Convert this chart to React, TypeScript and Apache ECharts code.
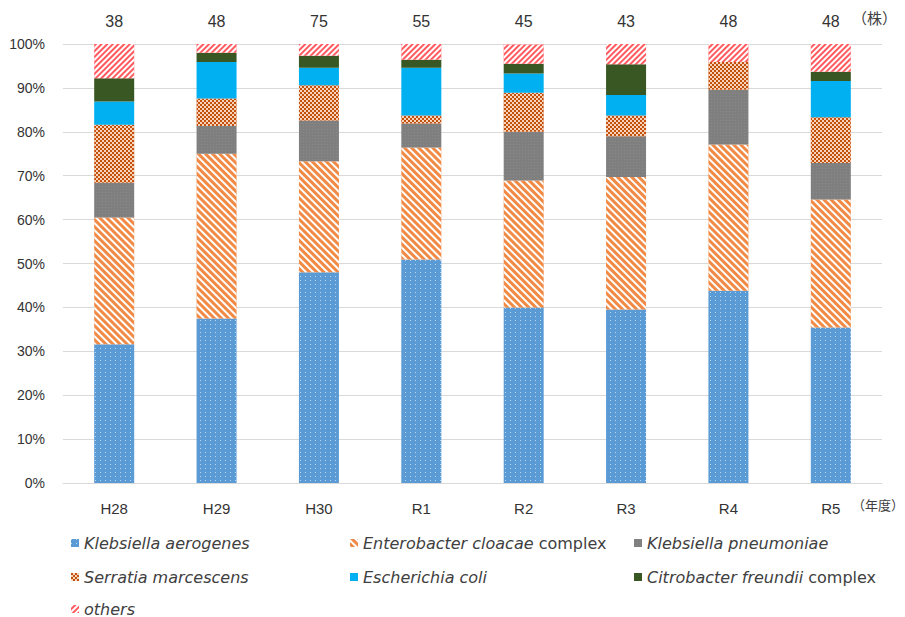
import React, { useEffect, useRef } from "react";
import * as echarts from "echarts";

const categories = ["H28", "H29", "H30", "R1", "R2", "R3", "R4", "R5"];
const totals = ["38", "48", "75", "55", "45", "43", "48", "48"];

const kAerogenes = [31.6, 37.5, 48.0, 50.9, 40.0, 39.5, 43.8, 35.4];
const eCloacae = [28.9, 37.5, 25.3, 25.5, 28.9, 30.2, 33.3, 29.2];
const kPneumoniae = [7.9, 6.3, 9.3, 5.5, 11.1, 9.3, 12.5, 8.3];
const sMarcescens = [13.2, 6.3, 8.0, 1.8, 8.9, 4.7, 6.3, 10.4];
const eColi = [5.3, 8.3, 4.0, 10.9, 4.4, 4.7, 0, 8.3];
const cFreundii = [5.3, 2.1, 2.7, 1.8, 2.2, 7.0, 0, 2.1];
const others = [7.9, 2.1, 2.7, 3.6, 4.4, 4.7, 4.2, 6.3];

const names = [
  "Klebsiella aerogenes",
  "Enterobacter cloacae complex",
  "Klebsiella pneumoniae",
  "Serratia marcescens",
  "Escherichia coli",
  "Citrobacter freundii complex",
  "others",
];

export default function App() {
  const ref = useRef<HTMLDivElement>(null);
  useEffect(() => {
    document.body.style.margin = "0";
    if (!ref.current) return;
    const chart = echarts.init(ref.current, null, { renderer: "svg" });
    const font = "'Liberation Sans', Arial, sans-serif";
    const legFont = "'DejaVu Sans', sans-serif";
    const styles: any[] = [
      {
        color: "#5B9BD5",
        decal: { symbol: "rect", color: "rgba(255,255,255,0.6)", dashArrayX: [1, 4], dashArrayY: [1, 3], symbolSize: 1 },
      },
      {
        color: "#F08A45",
        decal: { symbol: "rect", color: "#ffffff", dashArrayX: [1, 0], dashArrayY: [1.4, 2.1], rotation: Math.PI / 4, symbolSize: 1 },
      },
      {
        color: "#7F7F7F",
        decal: { symbol: "rect", color: "rgba(255,255,255,0.08)", dashArrayX: [1, 2], dashArrayY: [1, 2], symbolSize: 1 },
      },
      {
        color: "#C5500E",
        decal: { symbol: "rect", color: "rgba(255,235,215,0.85)", dashArrayX: [[2, 2], [0, 2, 2, 0]], dashArrayY: [2, 0], symbolSize: 1 },
      },
      { color: "#00B0F0" },
      { color: "#385723" },
      {
        color: "#FF5A5F",
        decal: { symbol: "rect", color: "#ffffff", dashArrayX: [1, 0], dashArrayY: [1.5, 2.0], rotation: -Math.PI / 4, symbolSize: 1 },
      },
    ];
    const data = [kAerogenes, eCloacae, kPneumoniae, sMarcescens, eColi, cFreundii, others];

    const fmt = (name: string) => {
      if (name.endsWith(" complex")) {
        return "{i|" + name.replace(" complex", "") + "} complex";
      }
      return "{i|" + name + "}";
    };
    const legendPos = [
      [66, 530],
      [345, 530],
      [629, 530],
      [66, 564],
      [345, 564],
      [629, 564],
      [66, 596],
    ];
    const legends = names.map((n, i) => ({
      show: true,
      data: [n],
      left: legendPos[i][0],
      top: legendPos[i][1],
      icon: "rect",
      itemWidth: 8,
      itemHeight: 8,
      itemGap: 6,
      formatter: fmt,
      textStyle: {
        fontFamily: legFont,
        fontSize: 16,
        color: "#404040",
        rich: { i: { fontStyle: "italic", fontFamily: legFont, fontSize: 16, color: "#404040" } },
      },
    }));

    chart.setOption({
      animation: false,
      textStyle: { fontFamily: font },
      grid: { left: 63, right: 23, top: 44, bottom: 134 },
      legend: legends,
      xAxis: [
        {
          type: "category",
          data: categories,
          axisLine: { lineStyle: { color: "#D9D9D9" } },
          axisTick: { show: false },
          axisLabel: { color: "#333333", fontSize: 15, margin: 18, fontFamily: font },
        },
        {
          type: "category",
          position: "top",
          data: totals,
          axisLine: { show: false },
          axisTick: { show: false },
          axisLabel: { color: "#333333", fontSize: 16, margin: 15, fontFamily: font },
        },
      ],
      yAxis: {
        type: "value",
        min: 0,
        max: 100,
        interval: 10,
        axisLine: { show: false },
        axisTick: { show: false },
        splitLine: { lineStyle: { color: "#D9D9D9" } },
        axisLabel: { color: "#333333", fontSize: 14, margin: 18, formatter: "{value}%", fontFamily: font },
      },
      graphic: [
        { type: "text", left: 852, top: 10, style: { text: "（株）", fontSize: 15, fill: "#404040", fontFamily: "'Noto Sans CJK JP', sans-serif" } },
        { type: "text", left: 852, top: 498, style: { text: "（年度）", fontSize: 13, fill: "#404040", fontFamily: "'Noto Sans CJK JP', sans-serif" } },
      ],
      series: names.map((n, i) => ({
        name: n,
        type: "bar",
        stack: "total",
        barWidth: 40,
        xAxisIndex: 0,
        data: data[i],
        itemStyle: styles[i],
      })),
    });
    return () => chart.dispose();
  }, []);
  return <div ref={ref} style={{ width: 905, height: 617 }} />;
}
